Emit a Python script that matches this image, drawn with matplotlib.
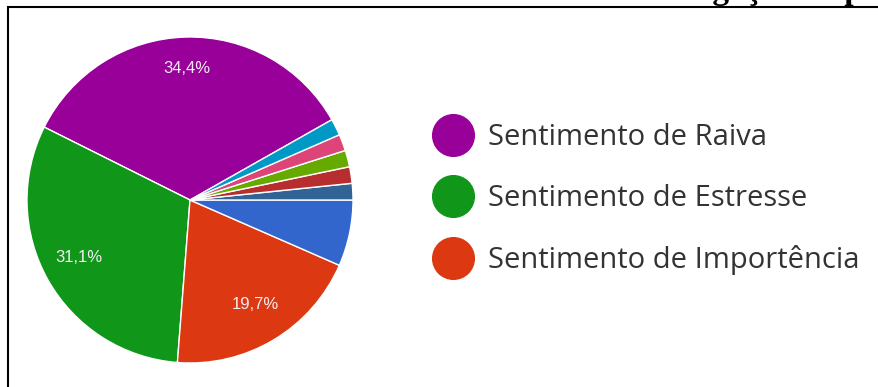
import matplotlib
matplotlib.use("Agg")
import matplotlib.pyplot as plt
from matplotlib.lines import Line2D
from matplotlib.patches import Rectangle

# responses per option (61 answers in total)
labels = ["Sentimento de Raiva", "Sentimento de Estresse", "Sentimento de Importência",
          "Outro 1", "Outro 2", "Outro 3", "Outro 4", "Outro 5", "Outro 6"]
counts = [21, 19, 12, 4, 1, 1, 1, 1, 1]
colors = ["#990099", "#109618", "#dc3912", "#3366cc", "#316395",
          "#b82e2e", "#66aa00", "#dd4477", "#0099c6"]
legend_labels = labels[:3]
title = "Investigação de p"


def pct_label(p):
    # only the bigger slices get a label, with comma decimals
    if p < 10:
        return ""
    return f"{p:.1f}%".replace(".", ",")


fig = plt.figure(figsize=(8.79, 3.87), dpi=100)

# pie axes: centre ~(190, 200) px from top-left, radius ~163 px
W, H = 879, 387
r = 163
ax = fig.add_axes([(190 - r) / W, (H - 200 - r) / H, 2 * r / W, 2 * r / H])
wedges, texts, autotexts = ax.pie(
    counts, colors=colors, startangle=29.5, autopct=pct_label, pctdistance=0.78,
    wedgeprops=dict(edgecolor="white", linewidth=1.0),
    textprops=dict(color="#f4eef4", fontsize=12, family="Liberation Sans"))
for t in autotexts:
    x, y = t.get_position()
    t.set_position((x, y + 0.03))
ax.set_xlim(-1, 1)
ax.set_ylim(-1, 1)
ax.set_aspect("equal")

handles = [Line2D([], [], marker="o", linestyle="none", markersize=30,
                  markerfacecolor=c, markeredgecolor=c) for c in colors[:3]]
fig.legend(handles, legend_labels, loc="center left", bbox_to_anchor=(438 / W, 1 - 199 / H),
           frameon=False, prop=dict(family="Open Sans", size=21), labelcolor="#333333",
           handlelength=1.0, handletextpad=0.7, labelspacing=1.1,
           borderpad=0, borderaxespad=0)

# frame around the chart and the clipped caption above it
fig.patches.append(Rectangle((8 / W, -0.1), 1.1, 1 - 7 / H + 0.1, transform=fig.transFigure,
                             fill=False, edgecolor="black", linewidth=1.5))
fig.text(616 / W, 1 + 0.5 / H, title, ha="left", va="baseline",
         family="Liberation Serif", weight="bold", fontsize=24)

fig.savefig("out.png", dpi=100)
